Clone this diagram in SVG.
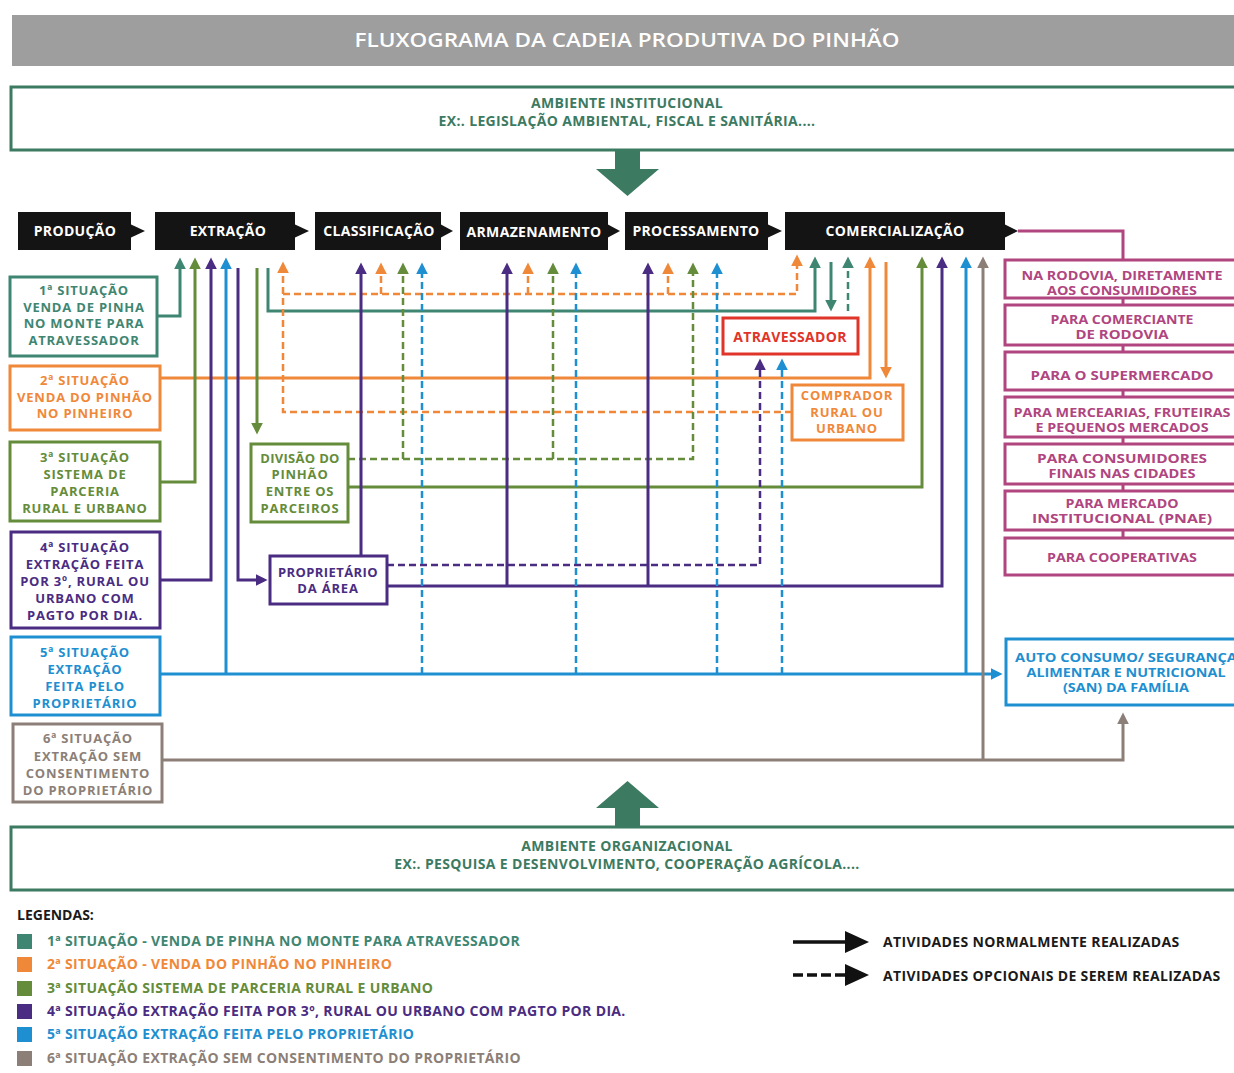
<svg xmlns="http://www.w3.org/2000/svg" width="1234" height="1073" viewBox="0 0 1234 1073">
<defs>
<style>
text{font-family:"Open Sans","Liberation Sans",sans-serif;font-weight:700;font-size:14px;letter-spacing:0.35px}
.m{text-anchor:middle}
.b{font-size:13px;letter-spacing:0.8px}
.box{fill:#fff;stroke-width:3}
.stage rect,.stage path{fill:#141414}
.stage text{fill:#fff;text-anchor:middle}
.sm{font-size:12.5px;letter-spacing:0}
.s{fill:none;stroke-width:3}
.d{fill:none;stroke-width:2.5;stroke-dasharray:7 4}
.cT{stroke:#3f8672}.fT{fill:#3f8672}
.cO{stroke:#f0883a}.fO{fill:#f0883a}
.cG{stroke:#648c3a}.fG{fill:#648c3a}
.cP{stroke:#4a2c82}.fP{fill:#4a2c82}
.cB{stroke:#1e8fd0}.fB{fill:#1e8fd0}
.cY{stroke:#8c7f78}.fY{fill:#8c7f78}
.cM{stroke:#b0457f}.fM{fill:#b0457f}
.cR{stroke:#e0342a}.fR{fill:#e0342a}
.cE{stroke:#3d7a62}.fE{fill:#3d7a62}
</style>
<marker id="aT" viewBox="0 0 10 10" refX="7" refY="5" markerWidth="12" markerHeight="12" markerUnits="userSpaceOnUse" orient="auto"><path d="M0,0L10,5L0,10z" fill="#3f8672"/></marker>
<marker id="aO" viewBox="0 0 10 10" refX="7" refY="5" markerWidth="12" markerHeight="12" markerUnits="userSpaceOnUse" orient="auto"><path d="M0,0L10,5L0,10z" fill="#f0883a"/></marker>
<marker id="aG" viewBox="0 0 10 10" refX="7" refY="5" markerWidth="12" markerHeight="12" markerUnits="userSpaceOnUse" orient="auto"><path d="M0,0L10,5L0,10z" fill="#648c3a"/></marker>
<marker id="aP" viewBox="0 0 10 10" refX="7" refY="5" markerWidth="12" markerHeight="12" markerUnits="userSpaceOnUse" orient="auto"><path d="M0,0L10,5L0,10z" fill="#4a2c82"/></marker>
<marker id="aB" viewBox="0 0 10 10" refX="7" refY="5" markerWidth="12" markerHeight="12" markerUnits="userSpaceOnUse" orient="auto"><path d="M0,0L10,5L0,10z" fill="#1e8fd0"/></marker>
<marker id="aY" viewBox="0 0 10 10" refX="7" refY="5" markerWidth="12" markerHeight="12" markerUnits="userSpaceOnUse" orient="auto"><path d="M0,0L10,5L0,10z" fill="#8c7f78"/></marker>
</defs>
<rect width="1234" height="1073" fill="#fff"/>

<g id="title">
<rect x="12" y="15" width="1230" height="51" fill="#9e9e9e"/>
<text x="627" y="47" class="m" fill="#fff" style="font-size:20px;font-weight:600;letter-spacing:0" textLength="545" lengthAdjust="spacingAndGlyphs">FLUXOGRAMA DA CADEIA PRODUTIVA DO PINHÃO</text>
</g>

<g id="ambiente-institucional">
<rect x="11" y="87" width="1240" height="63" class="box cE"/>
<text x="627" y="108" class="m fE">AMBIENTE INSTITUCIONAL</text>
<text x="627" y="126" class="m fE">EX:. LEGISLAÇÃO AMBIENTAL, FISCAL E SANITÁRIA....</text>
</g>
<path id="seta-inst" d="M615,150H640V169H659L627.5,196L596,169H615Z" class="fE"/>

<g id="ambiente-organizacional">
<rect x="11" y="827" width="1240" height="63" class="box cE"/>
<text x="627" y="851" class="m fE">AMBIENTE ORGANIZACIONAL</text>
<text x="627" y="869" class="m fE">EX:. PESQUISA E DESENVOLVIMENTO, COOPERAÇÃO AGRÍCOLA....</text>
</g>
<path id="seta-org" d="M615,827H640V808H659L627.5,781L596,808H615Z" class="fE"/>

<g id="etapas" class="stage">
<g id="producao"><rect x="18" y="212" width="113" height="38"/><path d="M130,224L145,231L130,238Z"/><text x="75" y="236">PRODUÇÃO</text></g>
<g id="extracao"><rect x="155" y="212" width="140" height="38"/><path d="M294,224L309,231L294,238Z"/><text x="228" y="236">EXTRAÇÃO</text></g>
<g id="classificacao"><rect x="315" y="212" width="126" height="38"/><path d="M440,224L453,231L440,238Z"/><text x="379" y="236">CLASSIFICAÇÃO</text></g>
<g id="armazenamento"><rect x="460" y="212" width="148" height="38"/><path d="M607,224L620,231L607,238Z"/><text x="534" y="237">ARMAZENAMENTO</text></g>
<g id="processamento"><rect x="625" y="212" width="143" height="38"/><path d="M767,224L782,231L767,238Z"/><text x="696" y="236">PROCESSAMENTO</text></g>
<g id="comercializacao"><rect x="785" y="212" width="220" height="38"/><path d="M1004,224L1018,231L1004,238Z"/><text x="895" y="236">COMERCIALIZAÇÃO</text></g>
</g>

<g id="conectores">
<path d="M1018,231H1123V260M1123,298V305M1123,345V352M1123,390V397M1123,437V444M1123,484V491M1123,530V538" class="s cM"/>
<path d="M157,316H180V261" class="s cT" marker-end="url(#aT)"/>
<path d="M268,268V311H815V260" class="s cT" marker-end="url(#aT)"/>
<path d="M831,262V308" class="s cT" marker-end="url(#aT)"/>
<path d="M848,311V260" class="d cT" marker-end="url(#aT)"/>
<path d="M160,378H870V260" class="s cO" marker-end="url(#aO)"/>
<path d="M886,262V375" class="s cO" marker-end="url(#aO)"/>
<path d="M792,412H283V265" class="d cO" marker-end="url(#aO)"/>
<path d="M283,294H797V258" class="d cO" marker-end="url(#aO)"/>
<path d="M381,294V266" class="d cO" marker-end="url(#aO)"/>
<path d="M528,294V266" class="d cO" marker-end="url(#aO)"/>
<path d="M668,294V266" class="d cO" marker-end="url(#aO)"/>
<path d="M160,482H195V261" class="s cG" marker-end="url(#aG)"/>
<path d="M257,268V431" class="s cG" marker-end="url(#aG)"/>
<path d="M348,459H693V266" class="d cG" marker-end="url(#aG)"/>
<path d="M403,459V266" class="d cG" marker-end="url(#aG)"/>
<path d="M553,459V266" class="d cG" marker-end="url(#aG)"/>
<path d="M348,487H922V260" class="s cG" marker-end="url(#aG)"/>
<path d="M160,580H211V261" class="s cP" marker-end="url(#aP)"/>
<path d="M238,268V580H264" class="s cP" marker-end="url(#aP)"/>
<path d="M361,556V266" class="s cP" marker-end="url(#aP)"/>
<path d="M387,586H942V260" class="s cP" marker-end="url(#aP)"/>
<path d="M507,586V266" class="s cP" marker-end="url(#aP)"/>
<path d="M648,586V266" class="s cP" marker-end="url(#aP)"/>
<path d="M387,565H760V362" class="d cP" marker-end="url(#aP)"/>
<path d="M160,674H999" class="s cB" marker-end="url(#aB)"/>
<path d="M226,674V261" class="s cB" marker-end="url(#aB)"/>
<path d="M966,674V260" class="s cB" marker-end="url(#aB)"/>
<path d="M422,674V266" class="d cB" marker-end="url(#aB)"/>
<path d="M576,674V266" class="d cB" marker-end="url(#aB)"/>
<path d="M717,674V266" class="d cB" marker-end="url(#aB)"/>
<path d="M782,674V362" class="d cB" marker-end="url(#aB)"/>
<path d="M163,760H1123V716" class="s cY" marker-end="url(#aY)"/>
<path d="M983,760V260" class="s cY" marker-end="url(#aY)"/>
</g>

<g id="sit1"><rect x="10" y="277" width="147" height="79" class="box cT"/>
<text class="m b fT" x="84" y="295">1ª SITUAÇÃO</text><text class="m b fT" x="84" y="312">VENDA DE PINHA</text><text class="m b fT" x="84" y="328">NO MONTE PARA</text><text class="m b fT" x="84" y="345">ATRAVESSADOR</text></g>
<g id="sit2"><rect x="10" y="366" width="150" height="64" class="box cO"/>
<text class="m b fO" x="85" y="385">2ª SITUAÇÃO</text><text class="m b fO" x="85" y="402">VENDA DO PINHÃO</text><text class="m b fO" x="85" y="418">NO PINHEIRO</text></g>
<g id="sit3"><rect x="10" y="442" width="150" height="79" class="box cG"/>
<text class="m b fG" x="85" y="462">3ª SITUAÇÃO</text><text class="m b fG" x="85" y="479">SISTEMA DE</text><text class="m b fG" x="85" y="496">PARCERIA</text><text class="m b fG" x="85" y="513">RURAL E URBANO</text></g>
<g id="sit4"><rect x="11" y="532" width="149" height="96" class="box cP"/>
<text class="m b fP" x="85" y="552">4ª SITUAÇÃO</text><text class="m b fP" x="85" y="569">EXTRAÇÃO FEITA</text><text class="m b fP" x="85" y="586">POR 3º, RURAL OU</text><text class="m b fP" x="85" y="603">URBANO COM</text><text class="m b fP" x="85" y="620">PAGTO POR DIA.</text></g>
<g id="sit5"><rect x="11" y="637" width="149" height="78" class="box cB"/>
<text class="m b fB" x="85" y="657">5ª SITUAÇÃO</text><text class="m b fB" x="85" y="674">EXTRAÇÃO</text><text class="m b fB" x="85" y="691">FEITA PELO</text><text class="m b fB" x="85" y="708">PROPRIETÁRIO</text></g>
<g id="sit6"><rect x="13" y="724" width="149" height="78" class="box cY"/>
<text class="m b fY" x="88" y="743">6ª SITUAÇÃO</text><text class="m b fY" x="88" y="761">EXTRAÇÃO SEM</text><text class="m b fY" x="88" y="778">CONSENTIMENTO</text><text class="m b fY" x="88" y="795">DO PROPRIETÁRIO</text></g>

<g id="divisao"><rect x="251" y="444" width="97" height="78" class="box cG"/>
<text class="m b fG" x="300" y="463" style="letter-spacing:0.3px">DIVISÃO DO</text><text class="m b fG" x="300" y="479">PINHÃO</text><text class="m b fG" x="300" y="496">ENTRE OS</text><text class="m b fG" x="300" y="513">PARCEIROS</text></g>
<g id="proprietario"><rect x="270" y="556" width="117" height="48" class="box cP"/>
<text class="m b fP" x="328" y="577" style="letter-spacing:0.4px">PROPRIETÁRIO</text><text class="m b fP" x="328" y="593">DA ÁREA</text></g>
<g id="atravessador"><rect x="723" y="318" width="135" height="36" class="box cR"/>
<text class="m fR" x="790" y="342">ATRAVESSADOR</text></g>
<g id="comprador"><rect x="792" y="385" width="111" height="55" class="box cO"/>
<text class="m b fO" x="847" y="400">COMPRADOR</text><text class="m b fO" x="847" y="417">RURAL OU</text><text class="m b fO" x="847" y="433">URBANO</text></g>

<g id="destinos">
<g id="rodovia-consumidores"><rect x="1005" y="260" width="240" height="38" class="box cM"/><text class="m fM sm" x="1122" y="280" textLength="201" lengthAdjust="spacingAndGlyphs">NA RODOVIA, DIRETAMENTE</text><text class="m fM sm" x="1122" y="295" textLength="150" lengthAdjust="spacingAndGlyphs">AOS CONSUMIDORES</text></g>
<g id="comerciante-rodovia"><rect x="1005" y="305" width="240" height="40" class="box cM"/><text class="m fM sm" x="1122" y="324" textLength="143" lengthAdjust="spacingAndGlyphs">PARA COMERCIANTE</text><text class="m fM sm" x="1122" y="339" textLength="93" lengthAdjust="spacingAndGlyphs">DE RODOVIA</text></g>
<g id="supermercado"><rect x="1005" y="352" width="240" height="38" class="box cM"/><text class="m fM sm" x="1122" y="380" textLength="183" lengthAdjust="spacingAndGlyphs">PARA O SUPERMERCADO</text></g>
<g id="mercearias"><rect x="1005" y="397" width="240" height="40" class="box cM"/><text class="m fM sm" x="1122" y="417" textLength="217" lengthAdjust="spacingAndGlyphs">PARA MERCEARIAS, FRUTEIRAS</text><text class="m fM sm" x="1122" y="432" textLength="173" lengthAdjust="spacingAndGlyphs">E PEQUENOS MERCADOS</text></g>
<g id="consumidores-finais"><rect x="1005" y="444" width="240" height="40" class="box cM"/><text class="m fM sm" x="1122" y="463" textLength="170" lengthAdjust="spacingAndGlyphs">PARA CONSUMIDORES</text><text class="m fM sm" x="1122" y="478" textLength="147" lengthAdjust="spacingAndGlyphs">FINAIS NAS CIDADES</text></g>
<g id="mercado-institucional"><rect x="1005" y="491" width="240" height="39" class="box cM"/><text class="m fM sm" x="1122" y="508" textLength="113" lengthAdjust="spacingAndGlyphs">PARA MERCADO</text><text class="m fM sm" x="1122" y="523" textLength="180" lengthAdjust="spacingAndGlyphs">INSTITUCIONAL (PNAE)</text></g>
<g id="cooperativas"><rect x="1005" y="538" width="240" height="37" class="box cM"/><text class="m fM sm" x="1122" y="562" textLength="150" lengthAdjust="spacingAndGlyphs">PARA COOPERATIVAS</text></g>
</g>
<g id="auto-consumo"><rect x="1006" y="639" width="240" height="66" class="box cB"/>
<text class="m fB sm" x="1126" y="662" textLength="222" lengthAdjust="spacingAndGlyphs">AUTO CONSUMO/ SEGURANÇA</text><text class="m fB sm" x="1126" y="677" textLength="199" lengthAdjust="spacingAndGlyphs">ALIMENTAR E NUTRICIONAL</text><text class="m fB sm" x="1126" y="692" textLength="126" lengthAdjust="spacingAndGlyphs">(SAN) DA FAMÍLIA</text></g>

<g id="legenda">
<text x="17" y="920" fill="#1a1a1a" style="letter-spacing:0">LEGENDAS:</text>
<rect x="17" y="934" width="15" height="15" class="fT"/><text x="47" y="946" class="fT">1ª SITUAÇÃO - VENDA DE PINHA NO MONTE PARA ATRAVESSADOR</text>
<rect x="17" y="957" width="15" height="15" class="fO"/><text x="47" y="969" class="fO">2ª SITUAÇÃO - VENDA DO PINHÃO NO PINHEIRO</text>
<rect x="17" y="981" width="15" height="15" class="fG"/><text x="47" y="993" class="fG">3ª SITUAÇÃO SISTEMA DE PARCERIA RURAL E URBANO</text>
<rect x="17" y="1004" width="15" height="15" class="fP"/><text x="47" y="1016" class="fP">4ª SITUAÇÃO EXTRAÇÃO FEITA POR 3º, RURAL OU URBANO COM PAGTO POR DIA.</text>
<rect x="17" y="1027" width="15" height="15" class="fB"/><text x="47" y="1039" class="fB">5ª SITUAÇÃO EXTRAÇÃO FEITA PELO PROPRIETÁRIO</text>
<rect x="17" y="1051" width="15" height="15" class="fY"/><text x="47" y="1063" class="fY">6ª SITUAÇÃO EXTRAÇÃO SEM CONSENTIMENTO DO PROPRIETÁRIO</text>
<path d="M793,942H848" stroke="#111" stroke-width="3.5" fill="none"/>
<path d="M845,931L869,942L845,953Z" fill="#111"/>
<text x="883" y="947" fill="#1a1a1a">ATIVIDADES NORMALMENTE REALIZADAS</text>
<path d="M793,975H848" stroke="#111" stroke-width="3.5" stroke-dasharray="10 4" fill="none"/>
<path d="M845,964L869,975L845,986Z" fill="#111"/>
<text x="883" y="981" fill="#1a1a1a">ATIVIDADES OPCIONAIS DE SEREM REALIZADAS</text>
</g>
</svg>
